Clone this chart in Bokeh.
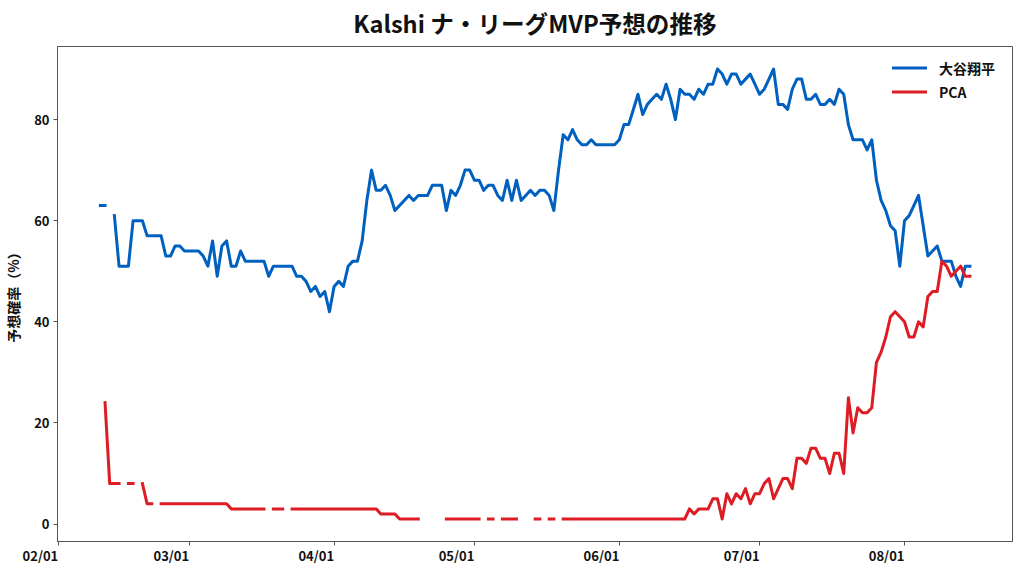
import numpy as np
import pandas as pd
from bokeh.plotting import figure
from bokeh.models import ColumnDataSource, FixedTicker, DatetimeTickFormatter, Range1d
from bokeh.embed import file_html
from bokeh.resources import INLINE

# ---- data (daily, from 2025-02-10; None = no trade that day) ----
start_date = "2025-02-10"
ohtani = [
    63, 63, None, 61, 51, 51, 51, 60, 60, 60,   # 02/10-02/19
    57, 57, 57, 57, 53, 53, 55, 55, 54, 54,
    54, 54, 53, 51, 56, 49, 55, 56, 51, 51,
    54, 52, 52, 52, 52, 52, 49, 51, 51, 51,
    51, 51, 49, 49, 48, 46, 47, 45, 46, 42,
    47, 48, 47, 51, 52, 52, 56, 64, 70, 66,
    66, 67, 65, 62, 63, 64, 65, 64, 65, 65,
    65, 67, 67, 67, 62, 66, 65, 67, 70, 70,
    68, 68, 66, 67, 67, 65, 64, 68, 64, 68,
    64, 65, 66, 65, 66, 66, 65, 62, 70, 77,
    76, 78, 76, 75, 75, 76, 75, 75, 75, 75,
    75, 76, 79, 79, 82, 85, 81, 83, 84, 85,
    84, 87, 84, 80, 86, 85, 85, 84, 86, 85,
    87, 87, 90, 89, 87, 89, 89, 87, 88, 89,
    87, 85, 86, 88, 90, 83, 83, 82, 86, 88,
    88, 84, 84, 85, 83, 83, 84, 83, 86, 85,
    79, 76, 76, 76, 74, 76, 68, 64, 62, 59,
    58, 51, 60, 61, 63, 65, 59, 53, 54, 55,
    52, 52, 52, 49, 47, 51, 51,                 # 08/09-08/15
]
pca = [
    None, 24, 8, 8, 8, None, 8, 8, None, 8,     # 02/10-02/19
    4, 4, None, 4, 4, 4, 4, 4, 4, 4,
    4, 4, 4, 4, 4, 4, 4, 4, 3, 3,
    3, 3, 3, 3, 3, 3, None, 3, 3, 3,
    None, 3, 3, 3, 3, 3, 3, 3, 3, 3,
    3, 3, 3, 3, 3, 3, 3, 3, 3, 3,
    2, 2, 2, 2, 1, 1, 1, 1, 1, None,
    None, None, None, None, 1, 1, 1, 1, 1, 1,
    1, 1, None, 1, 1, None, 1, 1, 1, 1,
    None, None, None, 1, 1, None, 1, 1, None, 1,
    1, 1, 1, 1, 1, 1, 1, 1, 1, 1,
    1, 1, 1, 1, 1, 1, 1, 1, 1, 1,
    1, 1, 1, 1, 1, 1, 3, 2, 3, 3,
    3, 5, 5, 1, 6, 4, 6, 5, 7, 4,
    6, 6, 8, 9, 5, 7, 9, 9, 7, 13,
    13, 12, 15, 15, 13, 13, 10, 14, 14, 10,
    25, 18, 23, 22, 22, 23, 32, 34, 37, 41,
    42, 41, 40, 37, 37, 40, 39, 45, 46, 46,
    52, 51, 49, 50, 51, 49, 49,                 # 08/09-08/15
]
series_names = ["大谷翔平", "PCA"]
month_ticks = ["2025-02-01", "2025-03-01", "2025-04-01", "2025-05-01",
               "2025-06-01", "2025-07-01", "2025-08-01"]
y_ticks = [0, 20, 40, 60, 80]

n = min(len(ohtani), len(pca))
dates = pd.date_range(start_date, periods=n, freq="D")
src = ColumnDataSource(dict(
    date=dates,
    ohtani=np.array(ohtani[:n], dtype=float),
    pca=np.array(pca[:n], dtype=float),
))

FONT = "Noto Sans CJK JP"
AX = "#555555"

t0 = pd.Timestamp("2025-02-01")
p = figure(
    frame_width=955, frame_height=495,
    x_axis_type="datetime",
    x_range=Range1d(t0 - pd.Timedelta(hours=4), t0 + pd.Timedelta(days=204.1)),
    y_range=Range1d(-3.45, 94.45),
    output_backend="svg", toolbar_location=None,
    min_border_left=50, min_border_right=3, min_border_top=36, min_border_bottom=0,
    title="Kalshi ナ・リーグMVP予想の推移",
)
p.title.align = "center"
p.title.vertical_align = "top"
p.title.text_font = FONT
p.title.text_font_size = "23.6px"
p.title.text_font_style = "bold"
p.title.text_color = "#111111"

p.line(x="date", y="ohtani", source=src, line_width=3, color="#0060C0",
       line_join="round", line_cap="square", legend_label=series_names[0])
p.line(x="date", y="pca", source=src, line_width=3, color="#DD1C24",
       line_join="round", line_cap="square", legend_label=series_names[1])

p.xaxis.ticker = FixedTicker(ticks=[pd.Timestamp(t).value / 1e6 for t in month_ticks])
p.xaxis.formatter = DatetimeTickFormatter(
    milliseconds="%m/%d", seconds="%m/%d", minsec="%m/%d", minutes="%m/%d",
    hourmin="%m/%d", hours="%m/%d", days="%m/%d", months="%m/%d", years="%m/%d")
p.xaxis.major_label_orientation = 0.0001
p.yaxis.ticker = FixedTicker(ticks=y_ticks)
p.yaxis.axis_label = "予想確率（%）"

for ax in (p.xaxis, p.yaxis):
    ax.axis_line_color = AX
    ax.major_tick_line_color = AX
    ax.minor_tick_line_color = None
    ax.major_tick_out = 4
    ax.major_tick_in = 0
    ax.major_label_text_font = FONT
    ax.major_label_text_font_size = "13px"
    ax.major_label_text_font_style = "bold"
    ax.major_label_text_color = "#111111"
    ax.axis_label_text_font = FONT
    ax.axis_label_text_font_size = "14px"
    ax.axis_label_text_font_style = "bold"
    ax.axis_label_text_color = "#111111"
p.yaxis.axis_label_standoff = 8
p.xaxis.major_label_standoff = 10
p.yaxis.major_label_standoff = 4

p.xgrid.grid_line_color = None
p.ygrid.grid_line_color = None
p.outline_line_color = AX
p.outline_line_width = 1

lg = p.legend[0]
lg.location = (835, 439)
lg.margin = 0
lg.padding = 0
lg.border_line_color = None
lg.background_fill_alpha = 0
lg.glyph_width = 35
lg.glyph_height = 21
lg.spacing = 3
lg.label_standoff = 12
lg.label_text_font = FONT
lg.label_text_font_size = "14px"
lg.label_text_font_style = "bold"
lg.label_text_color = "#111111"

open("out.html", "w").write(file_html(p, INLINE))
